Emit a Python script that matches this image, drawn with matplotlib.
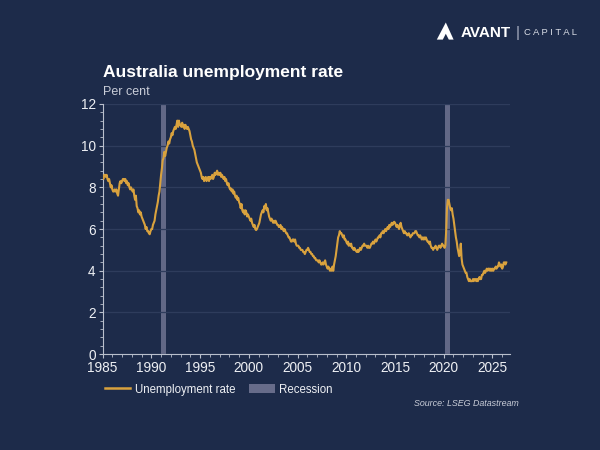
import numpy as np
import matplotlib
matplotlib.use("Agg")
import matplotlib.pyplot as plt
from matplotlib.patches import Polygon, Patch
from matplotlib.lines import Line2D

# monthly unemployment rate, per cent, one row per year starting Jan 1985
rate_rows = [
    [8.5, 8.4, 8.6, 8.6, 8.5, 8.6, 8.4, 8.3, 8.4, 8.2, 8.0, 8.1],   # 1985
    [7.9, 7.8, 7.8, 7.9, 7.8, 7.9, 7.7, 7.6, 7.9, 8.2, 8.3, 8.2],
    [8.3, 8.4, 8.4, 8.3, 8.4, 8.2, 8.3, 8.1, 8.2, 8.0, 7.9, 8.0],
    [7.9, 7.8, 7.9, 7.6, 7.4, 7.6, 7.1, 7.0, 6.8, 6.9, 6.7, 6.8],
    [6.6, 6.5, 6.4, 6.3, 6.2, 6.0, 6.1, 5.9, 5.9, 5.8, 5.75, 5.9],
    [6.0, 6.0, 6.2, 6.3, 6.4, 6.7, 6.9, 7.1, 7.3, 7.6, 7.8, 8.2],   # 1990
    [8.6, 8.9, 9.3, 9.4, 9.7, 9.5, 9.7, 9.9, 10.0, 10.2, 10.1, 10.3],
    [10.4, 10.6, 10.5, 10.7, 10.8, 10.9, 10.8, 11.0, 11.2, 10.9, 11.2, 11.0],
    [11.0, 10.9, 11.1, 10.9, 11.0, 10.8, 11.0, 10.9, 10.8, 10.9, 10.8, 10.7],
    [10.5, 10.3, 10.2, 10.0, 9.9, 9.8, 9.6, 9.4, 9.2, 9.1, 9.0, 8.9],
    [8.8, 8.7, 8.5, 8.4, 8.5, 8.3, 8.4, 8.5, 8.3, 8.4, 8.5, 8.3],   # 1995
    [8.5, 8.4, 8.5, 8.6, 8.4, 8.5, 8.7, 8.6, 8.7, 8.8, 8.6, 8.7],
    [8.6, 8.7, 8.5, 8.6, 8.5, 8.4, 8.5, 8.3, 8.4, 8.2, 8.1, 8.2],
    [8.0, 7.9, 7.95, 7.8, 7.9, 7.7, 7.8, 7.6, 7.5, 7.6, 7.4, 7.5],
    [7.3, 7.2, 7.0, 7.2, 6.9, 6.8, 6.9, 6.7, 6.9, 6.8, 6.6, 6.7],
    [6.6, 6.5, 6.4, 6.5, 6.3, 6.2, 6.1, 6.2, 6.0, 5.95, 6.0, 6.1],  # 2000
    [6.2, 6.3, 6.5, 6.7, 6.8, 6.9, 6.8, 7.1, 7.0, 7.2, 6.9, 7.0],
    [6.8, 6.6, 6.5, 6.4, 6.5, 6.4, 6.3, 6.4, 6.3, 6.4, 6.3, 6.2],
    [6.2, 6.1, 6.1, 6.2, 6.0, 6.1, 6.0, 5.9, 6.0, 5.9, 5.8, 5.8],
    [5.7, 5.6, 5.6, 5.5, 5.4, 5.4, 5.5, 5.5, 5.4, 5.5, 5.3, 5.2],
    [5.2, 5.2, 5.1, 5.1, 5.0, 5.0, 5.0, 4.9, 4.9, 4.8, 4.9, 5.0],   # 2005
    [5.0, 5.1, 5.0, 4.9, 4.9, 4.8, 4.8, 4.7, 4.7, 4.6, 4.6, 4.5],
    [4.5, 4.5, 4.4, 4.5, 4.4, 4.3, 4.3, 4.4, 4.3, 4.4, 4.5, 4.3],
    [4.2, 4.1, 4.2, 4.1, 4.0, 4.1, 4.0, 4.2, 4.0, 4.3, 4.5, 4.7],
    [5.0, 5.3, 5.6, 5.7, 5.9, 5.8, 5.8, 5.7, 5.6, 5.7, 5.5, 5.5],
    [5.4, 5.3, 5.4, 5.2, 5.3, 5.2, 5.3, 5.1, 5.1, 5.0, 5.1, 5.0],   # 2010
    [4.95, 4.9, 5.0, 4.9, 5.0, 5.1, 5.0, 5.1, 5.2, 5.2, 5.3, 5.2],
    [5.2, 5.2, 5.1, 5.2, 5.1, 5.1, 5.2, 5.3, 5.3, 5.4, 5.3, 5.4],
    [5.5, 5.4, 5.5, 5.6, 5.6, 5.7, 5.6, 5.8, 5.8, 5.9, 5.8, 5.9],
    [6.0, 5.9, 6.0, 6.1, 6.0, 6.2, 6.1, 6.2, 6.3, 6.2, 6.3, 6.35],
    [6.3, 6.2, 6.1, 6.2, 6.1, 6.0, 6.2, 6.3, 6.1, 6.0, 5.9, 5.8],   # 2015
    [5.9, 5.8, 5.8, 5.7, 5.7, 5.8, 5.7, 5.6, 5.7, 5.7, 5.8, 5.8],
    [5.8, 5.9, 5.9, 5.8, 5.7, 5.7, 5.6, 5.7, 5.6, 5.5, 5.6, 5.5],
    [5.6, 5.5, 5.6, 5.5, 5.4, 5.4, 5.3, 5.4, 5.2, 5.1, 5.1, 5.0],
    [5.1, 5.1, 5.2, 5.1, 5.0, 5.1, 5.2, 5.2, 5.1, 5.2, 5.3, 5.2],
    [5.2, 5.1, 5.2, 5.9, 7.0, 7.4, 7.4, 7.2, 7.0, 6.9, 7.0, 6.7],   # 2020
    [6.5, 6.2, 5.9, 5.6, 5.4, 5.1, 4.9, 4.7, 4.9, 5.3, 4.6, 4.3],
    [4.2, 4.1, 4.0, 3.9, 3.9, 3.7, 3.6, 3.5, 3.6, 3.5, 3.5, 3.5],
    [3.6, 3.5, 3.6, 3.6, 3.5, 3.6, 3.5, 3.6, 3.7, 3.6, 3.6, 3.8],
    [3.8, 3.9, 4.0, 3.9, 4.0, 4.1, 4.0, 4.1, 4.1, 4.0, 4.1, 4.0],
    [4.1, 4.0, 4.1, 4.1, 4.2, 4.1, 4.2, 4.2, 4.4, 4.3, 4.2, 4.3],   # 2025
    [4.1, 4.2, 4.4, 4.4, 4.3, 4.4],
]
start_year = 1985

# recession periods (decimal years)
recessions = [(1991.0, 1991.5), (2020.15, 2020.6)]

year_ticks = list(range(1985, 2026, 5))
y_ticks = [0, 2, 4, 6, 8, 10, 12]

title = "Australia unemployment rate"
unit_label = "Per cent"
source = "Source: LSEG Datastream"

bg = "#1d2b4a"
gold = "#d9a23e"
band = "#676c8a"
txt = "#eef0f4"

plt.rcParams["font.family"] = ["Liberation Sans", "DejaVu Sans"]

rate = [v for row in rate_rows for v in row]
dates = [start_year + i / 12 for i in range(len(rate))]

fig = plt.figure(figsize=(6, 4.5), dpi=100, facecolor=bg)
ax = fig.add_axes([0.171, 0.213, 0.679, 0.556], facecolor=bg)

for a, b in recessions:
    ax.axvspan(a, b, color=band, alpha=0.95, lw=0, zorder=1)

ax.plot(dates, rate, color=gold, lw=1.5, zorder=3)

ax.set_xlim(1985, 2026.8)
ax.set_ylim(0, 12)
ax.set_xticks(year_ticks)
ax.set_xticks(np.arange(1985, 2027, 1), minor=True)
ax.set_yticks(y_ticks)
ax.set_yticks(np.arange(0, 12.01, 0.4), minor=True)

ax.grid(axis="y", which="major", color="#2e3c5c", lw=0.9, ls="-", zorder=0)

for side in ["top", "right"]:
    ax.spines[side].set_visible(False)
for side in ["left", "bottom"]:
    ax.spines[side].set_color("#b9bfcc")
    ax.spines[side].set_linewidth(0.8)

ax.tick_params(which="major", colors="#b9bfcc", labelcolor=txt, labelsize=9.8, length=3, width=0.8, pad=2)
ax.tick_params(which="minor", colors="#b9bfcc", length=2, width=0.6)

# title and unit
fig.text(0.171, 0.84, title, color="white", fontsize=12.5, fontweight="bold", va="center", ha="left")
fig.text(0.171, 0.795, unit_label, color="#c9cdd8", fontsize=9, va="center", ha="left")

# legend
handles = [Line2D([0], [0], color=gold, lw=1.8),
           Patch(facecolor=band, edgecolor="none")]
leg = fig.legend(handles, ["Unemployment rate", "Recession"], loc="center left",
                 bbox_to_anchor=(0.175, 0.134), ncol=2, frameon=False, fontsize=8.3,
                 handlelength=2.2, handleheight=0.8, columnspacing=1.2, handletextpad=0.4,
                 borderpad=0, borderaxespad=0)
for t in leg.get_texts():
    t.set_color(txt)

fig.text(0.865, 0.104, source, color="#c9cdd8", fontsize=6.4, style="italic", ha="right", va="center")

# logo
icon = Polygon([[0.728, 0.912], [0.743, 0.950], [0.756, 0.912], [0.748, 0.912],
                [0.743, 0.925], [0.738, 0.912]], closed=True, transform=fig.transFigure,
               facecolor="white", edgecolor="none")
fig.patches.append(icon)
fig.text(0.768, 0.927, "AVANT", color="white", fontsize=11, fontweight="bold", va="center", ha="left")
fig.text(0.863, 0.927, "|", color="#aab1c2", fontsize=11, va="center", ha="center")
fig.text(0.874, 0.927, "C A P I T A L", color="#d8dce5", fontsize=6.8, va="center", ha="left")

fig.savefig("out.png", dpi=100, facecolor=bg)
